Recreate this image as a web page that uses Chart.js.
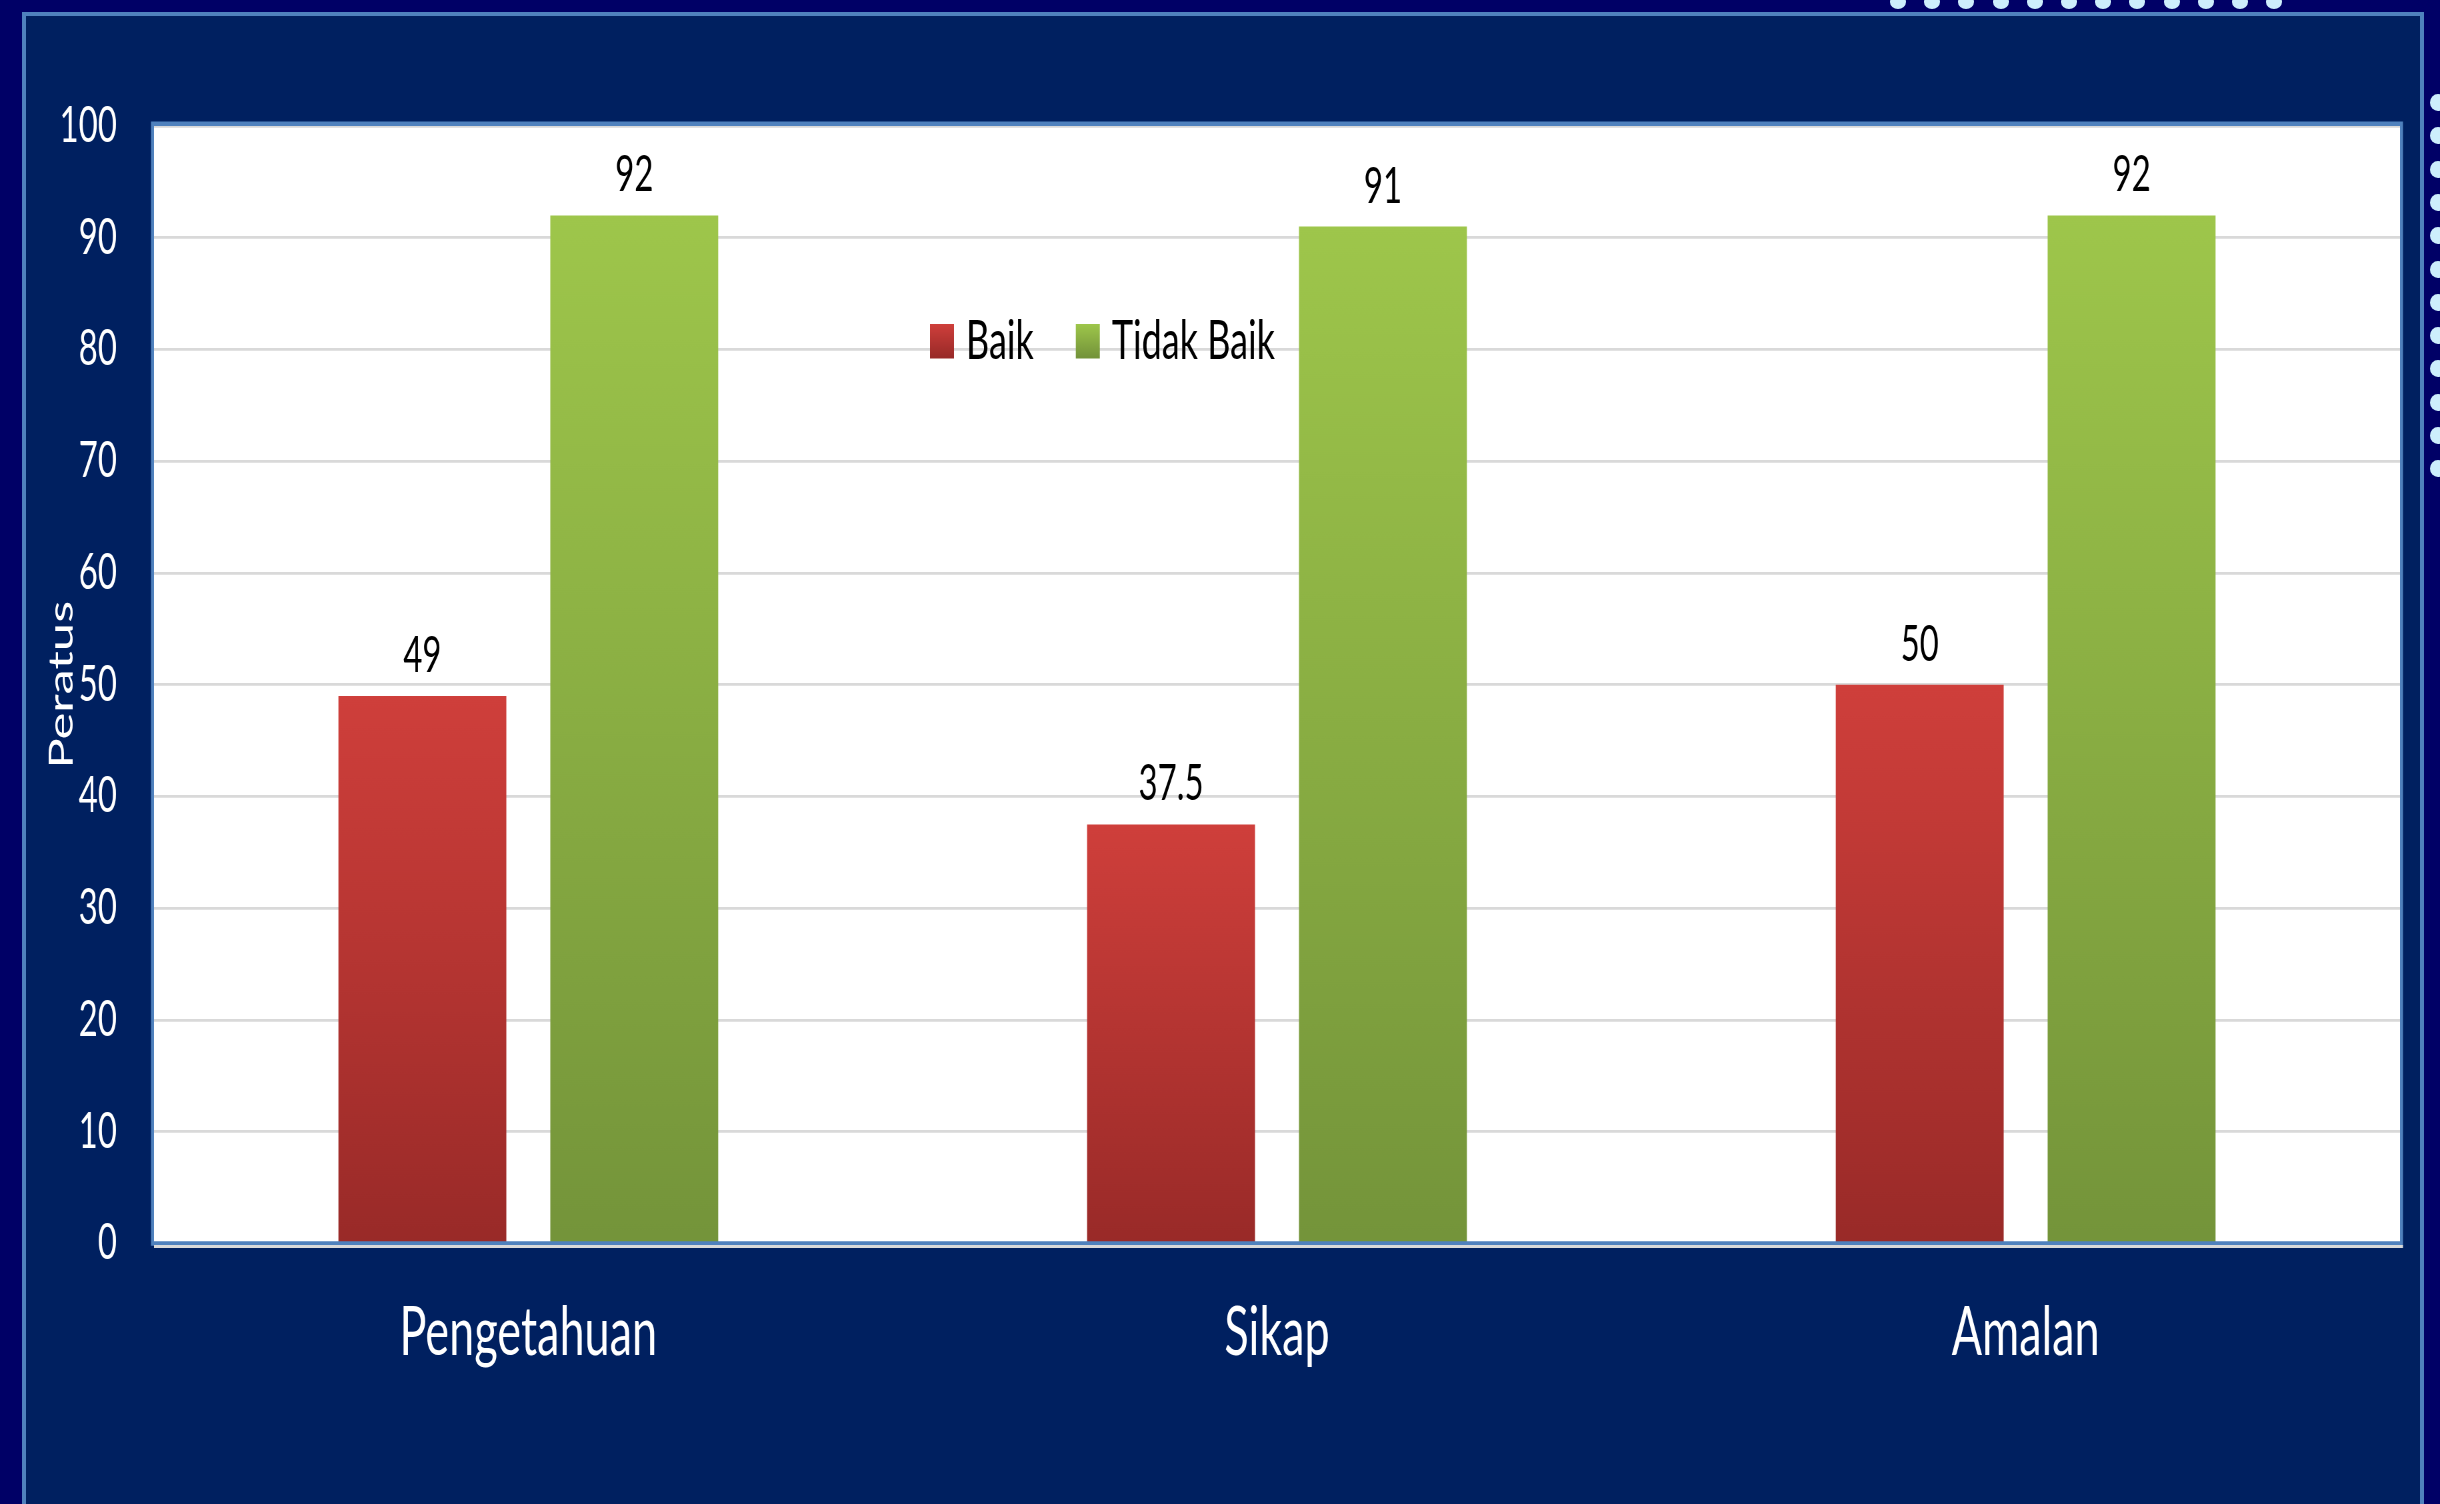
<!DOCTYPE html>
<html>
<head>
<meta charset="utf-8">
<title>Peratus Baik / Tidak Baik</title>
<script src="https://cdn.jsdelivr.net/npm/chart.js@4.4.0/dist/chart.umd.min.js"></script>
<style>
  html, body { margin: 0; padding: 0; }
  body {
    width: 2440px; height: 1504px; overflow: hidden; position: relative;
    background: #000066; font-family: Lato, sans-serif;
  }
  .panel {
    position: absolute; left: 22px; top: 12px; width: 2402px; height: 1520px;
    background: #002060; border: 4px solid #4F81BD; box-sizing: border-box;
  }
  .dot { position: absolute; background: #CDEEFC; border-radius: 50%; }
  /* chart is drawn short and stretched vertically, like the slide it comes from */
  .stage {
    position: absolute; left: 0; top: 0; width: 2440px; height: 1003px;
    transform: scaleY(1.4995); transform-origin: 0 0;
  }
</style>
</head>
<body>
<div class="panel"></div>
<div id="dots"></div>
<div class="stage"><canvas id="chart" width="2440" height="1003"></canvas></div>

<script>
const categories = ['Pengetahuan', 'Sikap', 'Amalan'];
const seriesNames = ['Baik', 'Tidak Baik'];
const baikValues = [49, 37.5, 50];
const tidakBaikValues = [92, 91, 92];
const yTicks = [0, 10, 20, 30, 40, 50, 60, 70, 80, 90, 100];
const yTitle = 'Peratus';

const RED = ['#CF3F3B', '#992A28'];
const GREEN = ['#9EC64B', '#74943A'];
const FONT = 'Lato';

// decorative bead strips along the top and right edge
(function drawDots() {
    const wrap = document.getElementById('dots');
    let html = '';
    for (let i = 0; i < 12; i++) {
        html += `<div class="dot" style="left:${1890 + i * 34.2}px; top:-5px; width:16px; height:14px;"></div>`;
        html += `<div class="dot" style="left:2430px; top:${94 + i * 33.3}px; width:16px; height:17px;"></div>`;
    }
    wrap.innerHTML = html;
})();

function barFill(colors) {
    return (c) => {
        const chart = c.chart;
        if (!chart.chartArea || c.type !== 'data') return colors[0];
        const y = chart.scales.y;
        const g = chart.ctx.createLinearGradient(0, y.getPixelForValue(c.raw), 0, y.getPixelForValue(0));
        g.addColorStop(0, colors[0]);
        g.addColorStop(1, colors[1]);
        return g;
    };
}

// white plot area with a blue frame
const plotFrame = {
    id: 'plotFrame',
    beforeDraw: (chart) => {
        const { ctx, chartArea: a } = chart;
        ctx.save();
        ctx.fillStyle = '#FFFFFF';
        ctx.fillRect(a.left, a.top, a.right - a.left, a.bottom - a.top);
        ctx.restore();
    },
    afterDraw: (chart) => {
        const { ctx, chartArea: a } = chart;
        ctx.save();
        ctx.strokeStyle = '#4F81BD';
        ctx.lineWidth = 3;
        ctx.strokeRect(a.left - 1.5, a.top - 1.5, a.right - a.left + 3, a.bottom - a.top + 1.5);
        ctx.strokeStyle = '#D9D9D9';
        ctx.lineWidth = 2;
        ctx.beginPath();
        ctx.moveTo(a.left, a.bottom + 2);
        ctx.lineTo(a.right + 3, a.bottom + 2);
        ctx.stroke();
        ctx.restore();
    }
};

// value above each bar
const valueLabels = {
    id: 'valueLabels',
    afterDatasetsDraw: (chart) => {
        const ctx = chart.ctx;
        ctx.save();
        ctx.fillStyle = '#000000';
        ctx.font = `33px ${FONT}`;
        ctx.textAlign = 'center';
        ctx.textBaseline = 'alphabetic';
        chart.data.datasets.forEach((ds, i) => {
            chart.getDatasetMeta(i).data.forEach((bar, j) => {
                ctx.fillText(String(ds.data[j]), bar.x, bar.y - 16);
            });
        });
        ctx.restore();
    }
};

// legend sits inside the plot area
const innerLegend = {
    id: 'innerLegend',
    afterDraw: (chart) => {
        const ctx = chart.ctx;
        const y = chart.scales.y.getPixelForValue(80) - 6;
        let x = 930;
        ctx.save();
        ctx.font = `36px ${FONT}`;
        ctx.textBaseline = 'middle';
        ctx.textAlign = 'left';
        chart.data.datasets.forEach((ds, i) => {
            const cols = i === 0 ? RED : GREEN;
            const g = ctx.createLinearGradient(0, y - 11, 0, y + 11);
            g.addColorStop(0, cols[0]);
            g.addColorStop(1, cols[1]);
            ctx.fillStyle = g;
            ctx.fillRect(x, y - 11, 24, 23);
            ctx.fillStyle = '#000000';
            ctx.fillText(ds.label, x + 36, y + 1);
            x += 36 + ctx.measureText(ds.label).width + 42;
        });
        ctx.restore();
    }
};

new Chart(document.getElementById('chart').getContext('2d'), {
    type: 'bar',
    data: {
        labels: categories,
        datasets: [
            { label: seriesNames[0], data: baikValues, backgroundColor: barFill(RED) },
            { label: seriesNames[1], data: tidakBaikValues, backgroundColor: barFill(GREEN) }
        ]
    },
    options: {
        responsive: false,
        devicePixelRatio: 1.5,
        animation: false,
        categoryPercentage: 0.566,
        barPercentage: 0.7925,
        layout: { padding: { top: 84, right: 40, left: 0, bottom: 0 } },
        plugins: {
            legend: { display: false },
            tooltip: { enabled: false }
        },
        scales: {
            x: {
                grid: { display: false },
                border: { display: false },
                ticks: { color: '#FFFFFF', font: { family: FONT, size: 45 }, padding: 25 },
                afterFit: (s) => { s.height = 174; }
            },
            y: {
                min: 0,
                max: 100,
                afterBuildTicks: (s) => { s.ticks = yTicks.map(v => ({ value: v })); },
                grid: { color: '#D9D9D9', lineWidth: 1.8, drawTicks: false },
                border: { display: false },
                ticks: { color: '#FFFFFF', font: { family: FONT, size: 33 }, padding: 37 },
                title: {
                    display: true,
                    text: yTitle,
                    color: '#FFFFFF',
                    font: { family: FONT, size: 34 },
                    padding: { top: 41, bottom: 0 }
                },
                afterFit: (s) => { s.width = 154; }
            }
        }
    },
    plugins: [plotFrame, valueLabels, innerLegend]
});
</script>
</body>
</html>
